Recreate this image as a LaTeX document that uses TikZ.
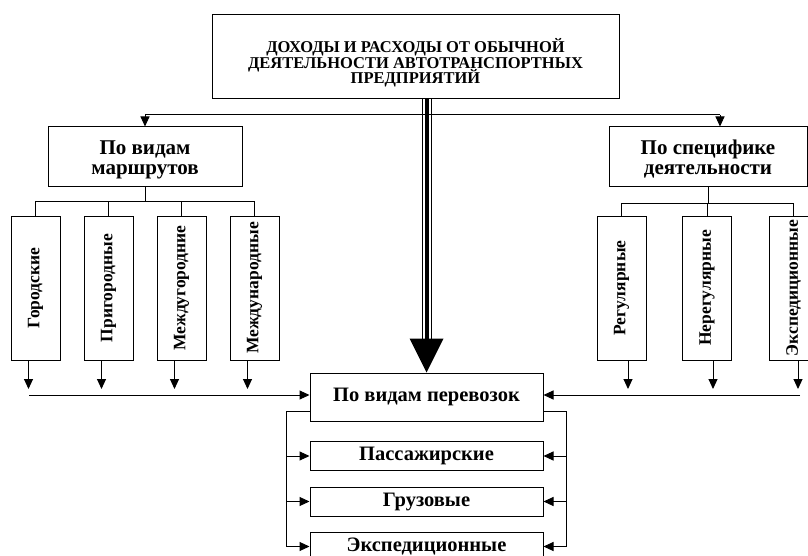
\documentclass[tikz,border=0pt]{standalone}
\usepackage{fontspec}
\setmainfont{Liberation Serif}
\usetikzlibrary{arrows.meta}
\begin{document}
\begin{tikzpicture}[x=1pt,y=-1pt,
  every node/.style={font=\bfseries},
  box/.style={draw,line width=1pt,inner sep=0pt,align=center},
  ln/.style={inner sep=0pt,anchor=base},
  ttxt/.style={ln,font=\bfseries\fontsize{16.5}{18}\selectfont},
  htxt/.style={ln,font=\bfseries\fontsize{21}{24}\selectfont},
  vbox/.style={box,rotate=90,minimum width=144pt,minimum height=49pt,font=\bfseries\fontsize{17.5}{20}\selectfont},
  bbox/.style={box,minimum width=233pt,font=\bfseries\fontsize{20.5}{22}\selectfont},
  lnk/.style={line width=1pt},
  arr/.style={line width=1pt,-{Triangle[length=10pt,width=9pt]}}]
\useasboundingbox (0,0) rectangle (808,556);
\clip (0,0) rectangle (808,556);
% top
\node[box,minimum width=407pt,minimum height=84pt] (top) at (415.5,57) {};
\node[ttxt] (t1) at (415.5,53) {ДОХОДЫ И РАСХОДЫ ОТ ОБЫЧНОЙ};
\node[ttxt] (t2) at (415.5,68.5) {ДЕЯТЕЛЬНОСТИ АВТОТРАНСПОРТНЫХ};
\node[ttxt] (t3) at (415.5,84) {ПРЕДПРИЯТИЙ};
\node[box,minimum width=194pt,minimum height=60pt] (lm) at (145,157) {};
\node[htxt] (lm1) at (145,155) {По видам};
\node[htxt] (lm2) at (145,175) {маршрутов};
\node[box,minimum width=198pt,minimum height=60pt] (rs) at (708,157) {};
\node[htxt] (rs1) at (708,155) {По специфике};
\node[htxt] (rs2) at (708,175) {деятельности};
% vertical boxes
\node[vbox] (v1) at (35.5,288) {Городские};
\node[vbox] (v2) at (108.5,288) {Пригородные};
\node[vbox] (v3) at (181.5,288) {Междугородние};
\node[vbox] (v4) at (254.5,288) {Международные};
\node[vbox] (w1) at (621.5,288) {Регулярные};
\node[vbox] (w2) at (707,288) {Нерегулярные};
\node[vbox] (w3) at (793.5,288) {Экспедиционные};
% main and bottom
\node[bbox,minimum height=48pt] (main) at (426.5,397) {По видам перевозок};
\node[bbox,minimum height=29pt] (b1) at (426.5,456) {Пассажирские};
\node[bbox,minimum height=29pt] (b2) at (426.5,501.5) {Грузовые};
\node[bbox,minimum height=29pt] (b3) at (426.5,546.5) {Экспедиционные};
% coordinates
\coordinate (hl) at (145,115);
\coordinate (hr) at (720,115);
\coordinate (lline) at (29,395);
\coordinate (rline) at (800,395);
\coordinate (lbus) at (286,411);
\coordinate (rbus) at (566,411);
% top connectors
\draw[lnk] (hl) -- (hr);
\draw[arr] (hl) -- (hl |- lm.north);
\draw[arr] (hr) -- (hr |- rs.north);
% triple arrow
\coordinate (tb) at (top.south -| main.north);
\coordinate (ab) at ([yshift=34pt]main.north);
\draw[line width=4pt] (tb) -- (ab);
\draw[line width=0.8pt] ([xshift=-4.5pt]tb) -- ([xshift=-4.5pt]ab);
\draw[line width=0.8pt] ([xshift=4.5pt]tb) -- ([xshift=4.5pt]ab);
\fill ([xshift=-17pt]ab) -- ([xshift=17pt]ab) -- (main.north) -- cycle;
% left tree
\draw[lnk] (lm.south) -- ++(0,14) coordinate (lj);
\draw[lnk] (v1.east) -- (v1.east |- lj) -- (v4.east |- lj) -- (v4.east);
\draw[lnk] (v2.east) -- (v2.east |- lj);
\draw[lnk] (v3.east) -- (v3.east |- lj);
% right tree
\draw[lnk] (rs.south) -- ++(0,16) coordinate (rj);
\draw[lnk] (w1.east) -- (w1.east |- rj) -- (w3.east |- rj) -- (w3.east);
\draw[lnk] (w2.east) -- (w2.east |- rj);
% down arrows
\foreach \n/\d in {v1/-7,v2/-7,v3/-7,v4/-7,w1/6.5,w2/6,w3/4.5}{
  \draw[arr] ([xshift=\d pt]\n.west) -- ([xshift=\d pt]\n.west |- 0,389);
}
% horizontal into main
\draw[arr] (lline) -- (lline -| main.west);
\draw[arr] (rline) -- (rline -| main.east);
% bottom buses
\draw[lnk] (lbus -| main.west) -- (lbus) -- (lbus |- b3.west);
\draw[lnk] (rbus -| main.east) -- (rbus) -- (rbus |- b3.east);
\foreach \b in {b1,b2,b3}{
  \draw[arr] (lbus |- \b.west) -- (\b.west);
  \draw[arr] (rbus |- \b.east) -- (\b.east);
}
\end{tikzpicture}
\end{document}
